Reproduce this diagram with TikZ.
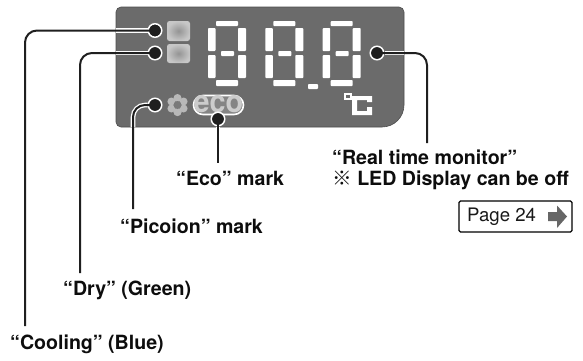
\documentclass[tikz,border=0pt]{standalone}
\usepackage{fontspec}
\setmainfont{TeX Gyre Heros}
\newfontfamily\markfont{Noto Sans CJK JP}
\definecolor{panelgray}{gray}{0.42}
\definecolor{leadblack}{gray}{0.12}
\tikzset{
  panel/.style={fill=panelgray,draw=black!70,line width=0.6pt},
  seg/.style={fill=white,draw=none,rounded corners=0.8pt},
  lamp/.style={inner color=black!42,outer color=black!22,draw=none,rounded corners=2.5pt},
  lab/.style={font=\fontsize{19.6}{23}\selectfont\bfseries,anchor=west,inner sep=0pt,text=black!95},
  halo/.style={draw=white,line width=4.6pt},
  lead/.style={draw=leadblack,line width=2pt},
  dothalo/.style={circle,fill=leadblack,draw=white,line width=1.5pt,minimum size=13.5pt,inner sep=0pt},
}
\newcommand{\digit}[1]{%
  \begin{scope}[xshift=#1]
    \fill[seg] (216,21) rectangle (238,26);
    \fill[seg] (208,28) rectangle (215.5,51);
    \fill[seg] (238,28) rectangle (246,51);
    \fill[seg] (221,51) rectangle (234,56);
    \fill[seg] (208,55) rectangle (215.5,78);
    \fill[seg] (238,55) rectangle (246,78);
    \fill[seg] (216,80) rectangle (238,86);
  \end{scope}}
\begin{document}
\begin{tikzpicture}[x=1pt,y=-1pt]
\useasboundingbox (0,0) rectangle (583,360);
% panel
\path[panel] (116,60) [rounded corners=5pt] -- (116,7) -- (404,7) -- (404,60)
  [rounded corners=22pt] -- (404,127) [rounded corners=5pt] -- (116,127) -- cycle;
% digits
\digit{0pt}\digit{57.3pt}\digit{114.7pt}
\fill[seg] (308,84) rectangle (318,89);
% lamps
\path[lamp] (167,21) rectangle (190,41);
\path[lamp] (167,44) rectangle (190,63);
% flower
\foreach \a in {90,150,...,450}{\fill[black!28] (177.5,105)+(\a:7) circle[radius=4];}
\fill[black!52] (177.5,105) circle[radius=4];
% eco
\path[fill=black!48,draw=white,line width=1.6pt,rounded corners=9.5pt] (193.5,95.5) rectangle (243.5,114.5);
\node[inner sep=0pt,text=black!20,xscale=.93,font=\fontsize{31}{31}\selectfont\bfseries] (ecotext) at (218.5,104) {eco};
% degree C
\fill[white] (344,93) rectangle (352,100);
\fill[panelgray] (346.2,95.2) rectangle (349.8,97.8);
\fill[white] (352,96) -- (372,96) -- (372,102) -- (367,102) -- (367,100) -- (357,100) -- (357,111) -- (367,111) -- (367,107) -- (372,107) -- (372,115) -- (352,115) -- cycle;
% anchors
\node[dothalo] (d1) at (155,30.5) {};
\node[dothalo] (d2) at (155,53) {};
\node[dothalo] (d3) at (155,105) {};
\node[dothalo] (d4) at (218,119) {};
\node[dothalo] (d5) at (377,53) {};
% labels
\node[lab] (cooling) at (10,344) {“Cooling” (Blue)};
\node[lab] (dry) at (63,290) {“Dry” (Green)};
\node[lab] (picoion) at (120,226) {“Picoion” mark};
\node[lab] (eco) at (176,178) {“Eco” mark};
\node[lab] (rt) at (332,157) {“Real time monitor”};
\node[lab] (led) at (332,180) {{\markfont\fontseries{m}\selectfont ※} LED Display can be off};
\coordinate (c1) at (25,326);
\coordinate (c2) at (80,273);
\coordinate (c3) at (133,209);
\coordinate (c4) at (218,163);
\coordinate (c5) at (427,143);
% halos in panel
\begin{scope}
\clip (116,7) rectangle (404,127);
\draw[halo] (d1) -- (116,30.5);
\draw[halo] (d2) -- (116,53);
\draw[halo,rounded corners=12pt] (d3) -- (133,105) -- (133,127);
\draw[halo] (d4) -- (218,127);
\draw[halo] (d5) -- (404,53);
\end{scope}
% leaders
\draw[lead,rounded corners=12pt] (d1.center) -| (c1);
\draw[lead,rounded corners=12pt] (d2.center) -| (c2);
\draw[lead,rounded corners=12pt] (d3.center) -| (c3);
\draw[lead] (d4.center) -- (c4);
\draw[lead,rounded corners=12pt] (d5.center) -| (c5);
\foreach \n in {d1,d2,d3,d4,d5}{\fill[leadblack] (\n) circle[radius=5.6];}
% page box
\node[draw=black,line width=1.2pt,rounded corners=1.5pt,minimum width=113pt,minimum height=31pt,inner sep=0pt] (pagebox) at (515.5,216.5) {};
\node[inner sep=0pt,anchor=west,font=\fontsize{18.6}{21}\selectfont,text=black!90] (pagetext) at (467,216.5) {Page 24};
\fill[black!60] (548,212) -- (557,212) -- (557,205.5) -- (567,216.5) -- (557,228) -- (557,221) -- (548,221) -- cycle;
\end{tikzpicture}
\end{document}
